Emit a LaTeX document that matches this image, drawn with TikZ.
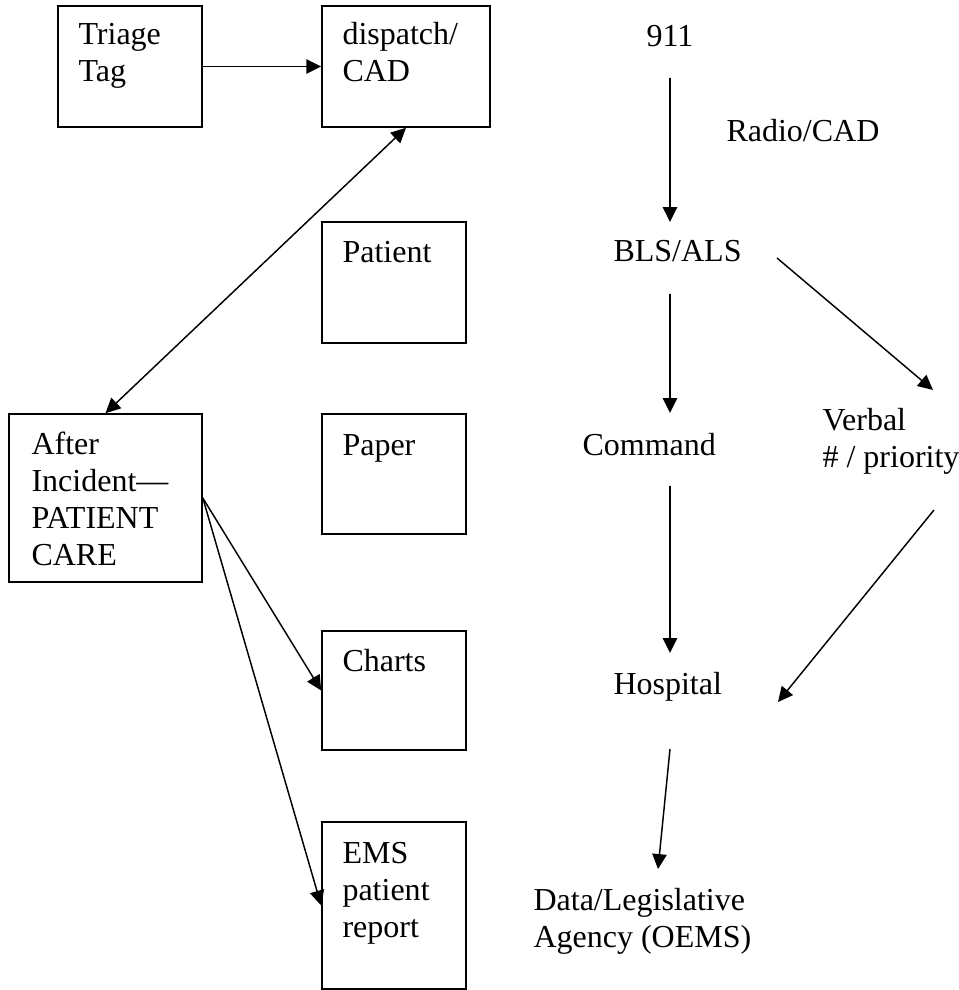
\documentclass[tikz,border=0pt]{standalone}
\usepackage{fontspec}
\setmainfont{Liberation Serif}
\usetikzlibrary{arrows.meta,calc}
\newdimen\pxu
\pxu=0.375pt
\begin{document}
\begin{tikzpicture}[
  x=0.375pt, y=-0.375pt,
  font=\fontsize{12}{13.875}\selectfont,
  box/.style={draw, line width=0.6pt, rectangle, inner sep=0pt},
  txt/.style={anchor=base west, inner sep=0pt, align=left},
  arr/.style={line width=0.55pt, -{Triangle[length=5.6pt,width=5.4pt]}},
  arrboth/.style={line width=0.55pt, {Triangle[length=5.6pt,width=5.4pt]}-{Triangle[length=5.6pt,width=5.4pt]}}
]
\useasboundingbox (0,0) rectangle (958,990);

% left column: framed boxes
\node[box, minimum width=144\pxu, minimum height=121\pxu] (triage)   at (130,66.5)  {};
\node[box, minimum width=168\pxu, minimum height=121\pxu] (dispatch) at (406,66.5)  {};
\node[box, minimum width=144\pxu, minimum height=121\pxu] (patient)  at (394,282.5) {};
\node[box, minimum width=144\pxu, minimum height=120\pxu] (paper)    at (394,474)   {};
\node[box, minimum width=193\pxu, minimum height=168\pxu] (after)    at (105.5,498) {};
\node[box, minimum width=144\pxu, minimum height=119\pxu] (charts)   at (394,690.5) {};
\node[box, minimum width=144\pxu, minimum height=167\pxu] (ems)      at (394,905.5) {};

% box captions (a multi-line caption sits on the baseline of its last line)
\node[txt] (triageT)   at (78,82)   {Triage\\Tag};
\node[txt] (dispatchT) at (342,82)  {dispatch/\\CAD};
\node[txt] (patientT)  at (342,263) {Patient};
\node[txt] (paperT)    at (342,455) {Paper};
\node[txt] (afterT)    at (31,565)  {After\\Incident—\\PATIENT\\CARE};
\node[txt] (chartsT)   at (342,671) {Charts};
\node[txt] (emsT)      at (342,937) {EMS\\patient\\report};

% right column: free-standing labels
\node[txt] (n911)     at (646,47)  {911};
\node[txt] (radio)    at (726,142) {Radio/CAD};
\node[txt] (bls)      at (613,262) {BLS/ALS};
\node[txt] (command)  at (582,455) {Command};
\node[txt] (verbal)   at (822,467) {Verbal\\\# / priority};
\node[txt] (hospital) at (613,694) {Hospital};
\node[txt] (data)     at (533,947) {Data/Legislative\\Agency (OEMS)};

% connectors between boxes
\draw[arr] (triage.east) -- (dispatch.west);
\draw[arrboth] (dispatch.south) -- (after.north);
\draw[arr] (after.east) -- (charts.west);
\draw[arr] (after.east) -- (ems.west);

% connectors between labels
\draw[arr] ($(n911.base west)+(24,31)$) -- ($(bls.base west)+(57,-40)$);
\draw[arr] ($(bls.base west)+(164,-4)$) -- ($(verbal.base west)+(111,-77)$);
\draw[arr] ($(bls.base west)+(57,32)$) -- ($(command.base west)+(88,-42)$);
\draw[arr] ($(command.base west)+(88,31)$) -- ($(hospital.base west)+(57,-41)$);
\draw[arr] ($(verbal.base west)+(112,43)$) -- ($(hospital.base west)+(165,8)$);
\draw[arr] ($(hospital.base west)+(57,55)$) -- ($(data.base west)+(125,-78)$);
\end{tikzpicture}
\end{document}
